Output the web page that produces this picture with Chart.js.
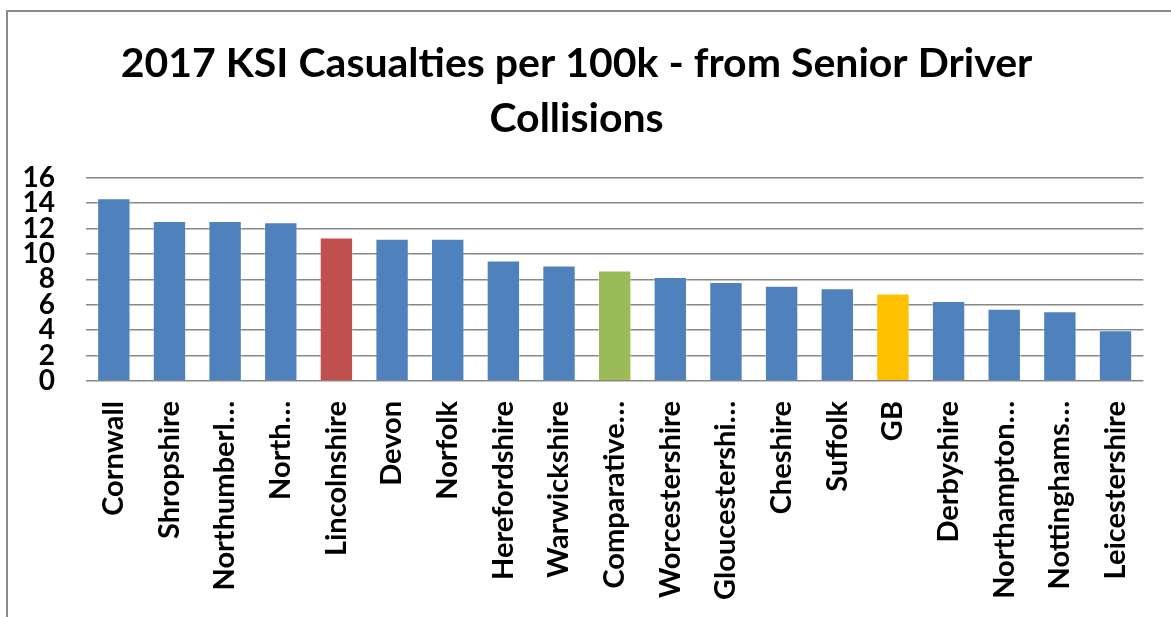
<!DOCTYPE html>
<html>
<head>
<meta charset="utf-8">
<script src="https://cdn.jsdelivr.net/npm/chart.js@4"></script>
<style>
  html, body { margin: 0; padding: 0; background: #fff; overflow: hidden; }
  #frame { position: absolute; left: 6px; top: 10px; width: 1200px; height: 650px; border: 2px solid #8a8a8a; box-sizing: border-box; }
  #chart { position: absolute; left: 0; top: 0; }
</style>
</head>
<body>
<div id="frame"></div>
<canvas id="chart" width="1171" height="617"></canvas>
<script>
// Senior driver collision KSI casualties per 100k population, 2017
const categories = ["Cornwall", "Shropshire", "Northumberland", "North Yorkshire", "Lincolnshire", "Devon", "Norfolk",
    "Herefordshire", "Warwickshire", "Comparative average", "Worcestershire", "Gloucestershire", "Cheshire", "Suffolk",
    "GB", "Derbyshire", "Northamptonshire", "Nottinghamshire", "Leicestershire"];
const tickLabels = ["Cornwall", "Shropshire", "Northumberl\u2026", "North\u2026", "Lincolnshire", "Devon", "Norfolk",
    "Herefordshire", "Warwickshire", "Comparative\u2026", "Worcestershire", "Gloucestershi\u2026", "Cheshire", "Suffolk",
    "GB", "Derbyshire", "Northampton\u2026", "Nottinghams\u2026", "Leicestershire"];
const values = [14.4, 12.6, 12.6, 12.5, 11.3, 11.2, 11.2, 9.5, 9.1, 8.7, 8.2, 7.8, 7.5, 7.3, 6.9, 6.3, 5.7, 5.5, 4.0];
const yTicks = [0, 2, 4, 6, 8, 10, 12, 14, 16];

// highlighted bars: Lincolnshire, the comparative average and GB
const highlight = { "Lincolnshire": "#C0504D", "Comparative average": "#9BBB59", "GB": "#FFC000" };
const barColors = categories.map(c => highlight[c] || "#4F81BD");

const ctx = document.getElementById("chart").getContext("2d");
const chart = new Chart(ctx, {
    type: "bar",
    data: {
        labels: tickLabels,
        datasets: [{
            label: "KSI per 100k",
            data: values,
            backgroundColor: barColors,
            borderColor: "rgba(255,255,255,0.35)",
            borderWidth: 1,
            barPercentage: 0.6,
            categoryPercentage: 1.0
        }]
    },
    options: {
        responsive: false,
        animation: false,
        layout: { padding: { left: 8, right: 26, top: 36, bottom: 0 } },
        plugins: {
            legend: { display: false },
            tooltip: { enabled: false },
            title: {
                display: true,
                text: ["2017 KSI Casualties per 100k - from Senior Driver", "Collisions"],
                color: "#000",
                font: { family: "Lato", weight: "bold", size: 41, lineHeight: 1.34 },
                padding: { top: 0, bottom: 32 }
            }
        },
        scales: {
            x: {
                grid: { display: false, drawTicks: false },
                border: { display: false },
                ticks: {
                    color: "#000",
                    font: { family: "Lato", weight: "bold", size: 29 },
                    maxRotation: 90,
                    minRotation: 90,
                    autoSkip: false,
                    padding: 20
                },
                afterFit: s => { s.height = 236; }
            },
            y: {
                min: 0,
                max: 16,
                afterBuildTicks: s => { s.ticks = yTicks.map(v => ({ value: v })); },
                grid: { color: "#878787", lineWidth: 1.6, drawTicks: false },
                border: { display: false },
                ticks: {
                    color: "#000",
                    font: { family: "Lato", weight: "bold", size: 28 },
                    autoSkip: false,
                    padding: 31
                },
                afterFit: s => { s.width = 78; }
            }
        }
    }
});
</script>
</body>
</html>
